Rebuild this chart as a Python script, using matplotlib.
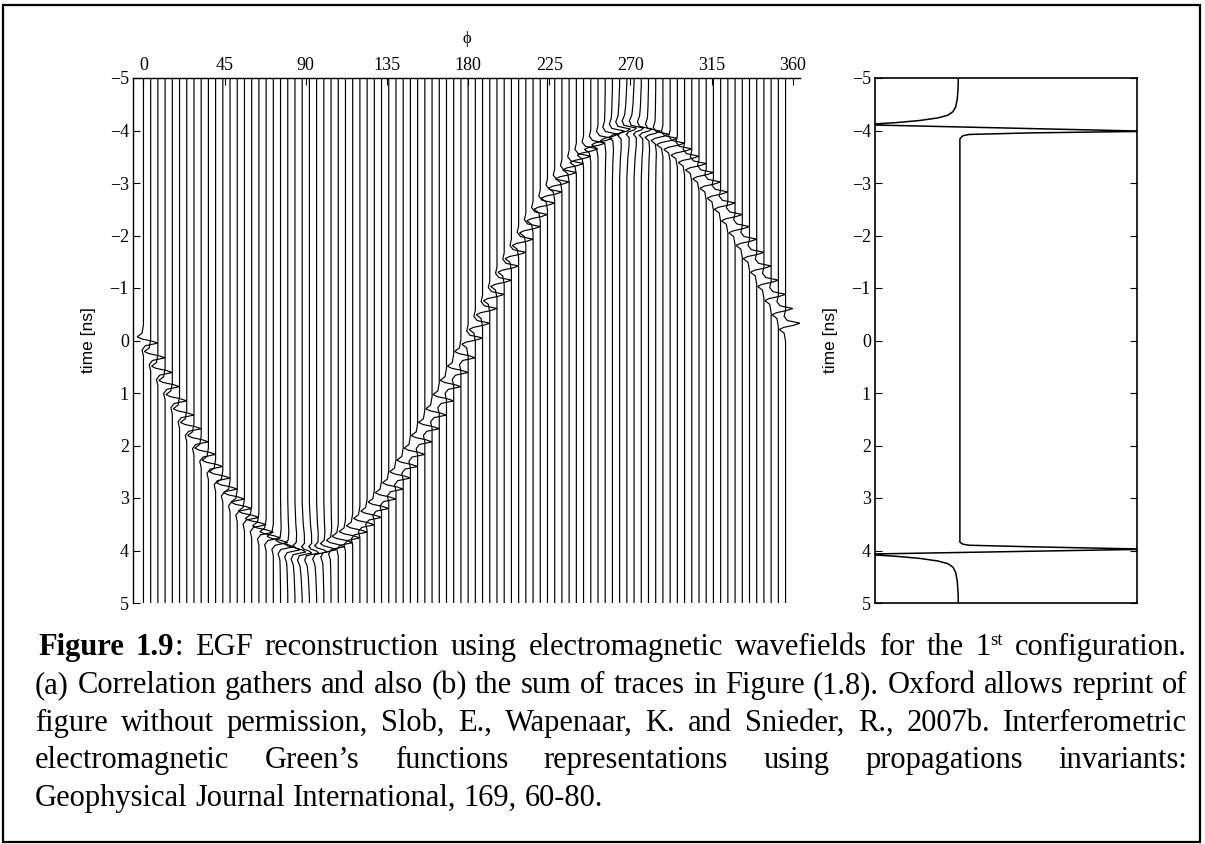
import matplotlib
matplotlib.use("Agg")
import matplotlib.pyplot as plt
from matplotlib.patches import Rectangle
import numpy as np

# ---------------- data ----------------
PHI = list(range(0, 360, 4))  # trace positions (degrees)
ARRIVAL = [0.00, 0.28, 0.56, 0.83, 1.10, 1.37, 1.63, 1.88, 2.12, 2.35,
           2.57, 2.78, 2.97, 3.15, 3.32, 3.46, 3.60, 3.71, 3.80, 3.88,
           3.94, 3.98, 4.00, 4.00, 3.98, 3.94, 3.88, 3.80, 3.71, 3.60,
           3.46, 3.32, 3.15, 2.97, 2.78, 2.57, 2.35, 2.12, 1.88, 1.63,
           1.37, 1.10, 0.83, 0.56, 0.28, 0.00, -0.28, -0.56, -0.83, -1.10,
           -1.37, -1.63, -1.88, -2.12, -2.35, -2.57, -2.78, -2.97, -3.15, -3.32,
           -3.46, -3.60, -3.71, -3.80, -3.88, -3.94, -3.98, -4.00, -4.00, -3.98,
           -3.94, -3.88, -3.80, -3.71, -3.60, -3.46, -3.32, -3.15, -2.97, -2.78,
           -2.57, -2.35, -2.12, -1.88, -1.63, -1.37, -1.10, -0.83, -0.56, -0.28]

# causal wavelet (time offset [ns], horizontal deflection [deg])
WAVELET_DT = [-0.30, -0.14, -0.07, -0.03, 0.01, 0.05, 0.10, 0.18, 0.30]
WAVELET_AMP = [0.0, -0.8, -3.5, -1.0, 4.5, 8.0, 1.0, -0.8, 0.0]

# extra slow tails seen on traces near the stationary points
TAIL_PHI = [76, 80, 84, 88, 92, 96, 100, 104, 256, 260, 264, 268, 272, 276, 280, 284]
TAIL_AMP = [0.6, 1.0, 1.5, 2.0, 2.0, 1.5, 1.0, 0.6, 0.6, 1.0, 1.5, 2.0, 2.0, 1.5, 1.0, 0.6]
TAIL_DT = [-0.9, -0.5, -0.3, -0.15, -0.06, 0.06, 0.15, 0.3, 0.5, 0.9]
TAIL_SHAPE = [0.0, 0.3, 0.6, 1.0, 1.6, -1.6, -1.0, -0.6, -0.3, 0.0]

# summed trace (panel b): relative deflection, time [ns]
SUM_X = [0.318, 0.317, 0.314, 0.308, 0.298, 0.278, 0.240, 0.170, 0.080, -0.05,
         1.05, 0.60, 0.36, 0.335, 0.324, 0.324, 0.335, 0.36, 0.60, 1.05,
         -0.05, 0.080, 0.170, 0.240, 0.278, 0.298, 0.308, 0.314, 0.317, 0.318]
SUM_T = [-5.0, -4.80, -4.60, -4.45, -4.36, -4.29, -4.24, -4.19, -4.15, -4.11,
         -3.985, -3.955, -3.925, -3.90, -3.84, 3.84, 3.88, 3.90, 3.93, 3.975,
         4.07, 4.11, 4.15, 4.20, 4.25, 4.32, 4.42, 4.58, 4.80, 5.0]

XTICKS = [0, 45, 90, 135, 180, 225, 270, 315, 360]
YTICKS = [-5, -4, -3, -2, -1, 0, 1, 2, 3, 4, 5]

# ---------------- figure ----------------
W, H = 1205, 844
fig = plt.figure(figsize=(W / 100, H / 100), dpi=100)
SERIF = ["Liberation Serif", "DejaVu Serif"]
SANS = ["Liberation Sans", "DejaVu Sans"]
TICKFS = 13


def px_axes(left, top, right, bottom):
    return [left / W, 1 - bottom / H, (right - left) / W, (bottom - top) / H]


# ---- panel (a) ----
ax = fig.add_axes(px_axes(133, 78, 800, 603))
tail_lookup = dict(zip(TAIL_PHI, TAIL_AMP))
for phi, t0 in zip(PHI, ARRIVAL):
    causal = phi < 180
    sgn = 1.0 if causal else -1.0
    dts = np.array(WAVELET_DT) * sgn
    amps = np.array(WAVELET_AMP)
    order = np.argsort(dts)
    dts, amps = dts[order], amps[order]
    grid = np.union1d(dts, np.array(TAIL_DT) * sgn)
    defl = np.interp(grid, dts, amps, left=0, right=0)
    if phi in tail_lookup:
        tdt = np.array(TAIL_DT) * sgn
        tsh = np.array(TAIL_SHAPE)
        o = np.argsort(tdt)
        defl = defl + tail_lookup[phi] * np.interp(grid, tdt[o], tsh[o], left=0, right=0)
    tt = np.concatenate([[-6.0], t0 + grid, [6.0]])
    xx = np.concatenate([[phi], phi + defl, [phi]])
    ax.plot(xx, tt, color="black", lw=0.85, solid_joinstyle="miter")

ax.set_xlim(-5.8, 364)
ax.set_ylim(5, -5)
for s in ["bottom", "right"]:
    ax.spines[s].set_visible(False)
for s in ["top", "left"]:
    ax.spines[s].set_linewidth(1.0)
ax.xaxis.set_ticks_position("top")
ax.xaxis.set_label_position("top")
ax.set_xticks(XTICKS)
ax.set_yticks(YTICKS)
ax.tick_params(direction="in", length=5, width=0.8, pad=3, labelsize=TICKFS)
for lab in ax.get_xticklabels() + ax.get_yticklabels():
    lab.set_family(SERIF)
ax.set_xlabel("\u03d5", fontsize=12, family=SERIF, labelpad=10)
ax.set_ylabel("time [ns]", fontsize=12.5, family=SANS, labelpad=10)

# ---- panel (b) ----
ax2 = fig.add_axes(px_axes(875, 78, 1137, 603))
ax2.plot(SUM_X, SUM_T, color="black", lw=1.1)
ax2.set_xlim(0, 1)
ax2.set_ylim(5, -5)
ax2.set_xticks([])
ax2.set_yticks(YTICKS)
ax2.tick_params(direction="in", length=5, width=0.8, pad=3, labelsize=TICKFS,
                right=True, left=True)
for lab in ax2.get_yticklabels():
    lab.set_family(SERIF)
for s in ax2.spines.values():
    s.set_linewidth(1.2)
ax2.set_ylabel("time [ns]", fontsize=12.5, family=SANS, labelpad=10)

# ---- outer frame ----
fig.patches.append(Rectangle((3 / W, 2 / H), (1200 - 3) / W, (842 - 5) / H,
                             transform=fig.transFigure, fill=False,
                             edgecolor="black", lw=1.6))

# ---- caption (justified) ----
renderer = fig.canvas.get_renderer()


def measure(s, fs, weight="normal"):
    t = fig.text(0, 0, s, fontsize=fs, family=SERIF, weight=weight)
    w = t.get_window_extent(renderer).width
    t.remove()
    return w


ref = "Geophysical Journal International, 169, 60-80."
FS = 20 * 569.0 / measure(ref, 20)

L1 = [[("Figure", "b")], [("1.9", "b"), (":", "n")], "EGF", "reconstruction", "using",
      "electromagnetic", "wavefields", "for", "the", [("1", "n"), ("st", "sup")],
      "configuration."]
L2 = "(a) Correlation gathers and also (b) the sum of traces in Figure (1.8). Oxford allows reprint of".split()
L3 = "figure without permission, Slob, E., Wapenaar, K. and Snieder, R., 2007b. Interferometric".split()
L4 = "electromagnetic Green\u2019s functions representations using propagations invariants:".split()
L5 = ref.split()
LINES = [(L1, 38, True), (L2, 35, True), (L3, 35, True), (L4, 35, True), (L5, 35, False)]
BASELINES = [655, 693, 731, 768, 806]
RIGHT = 1187


def segs(word):
    if isinstance(word, str):
        return [(word, "n")]
    return word


def seg_width(text, style):
    if style == "b":
        return measure(text, FS, "bold")
    if style == "sup":
        return measure(text, FS * 0.62)
    return measure(text, FS)


space_w = measure("a b", FS) - measure("ab", FS)
for (words, x0, justify), base in zip(LINES, BASELINES):
    widths = [sum(seg_width(t, st) for t, st in segs(wd)) for wd in words]
    if justify:
        gap = (RIGHT - x0 - sum(widths)) / (len(words) - 1)
    else:
        gap = space_w
    x = x0
    for wd, wdt in zip(words, widths):
        xs = x
        for text, st in segs(wd):
            yb = base
            fs = FS
            weight = "normal"
            if st == "b":
                weight = "bold"
            elif st == "sup":
                fs = FS * 0.62
                yb = base - FS * 0.45
            fig.text(xs / W, 1 - yb / H, text, fontsize=fs, family=SERIF,
                     weight=weight, ha="left", va="baseline")
            xs += seg_width(text, st)
        x += wdt + gap

fig.savefig("out.png", dpi=100)
